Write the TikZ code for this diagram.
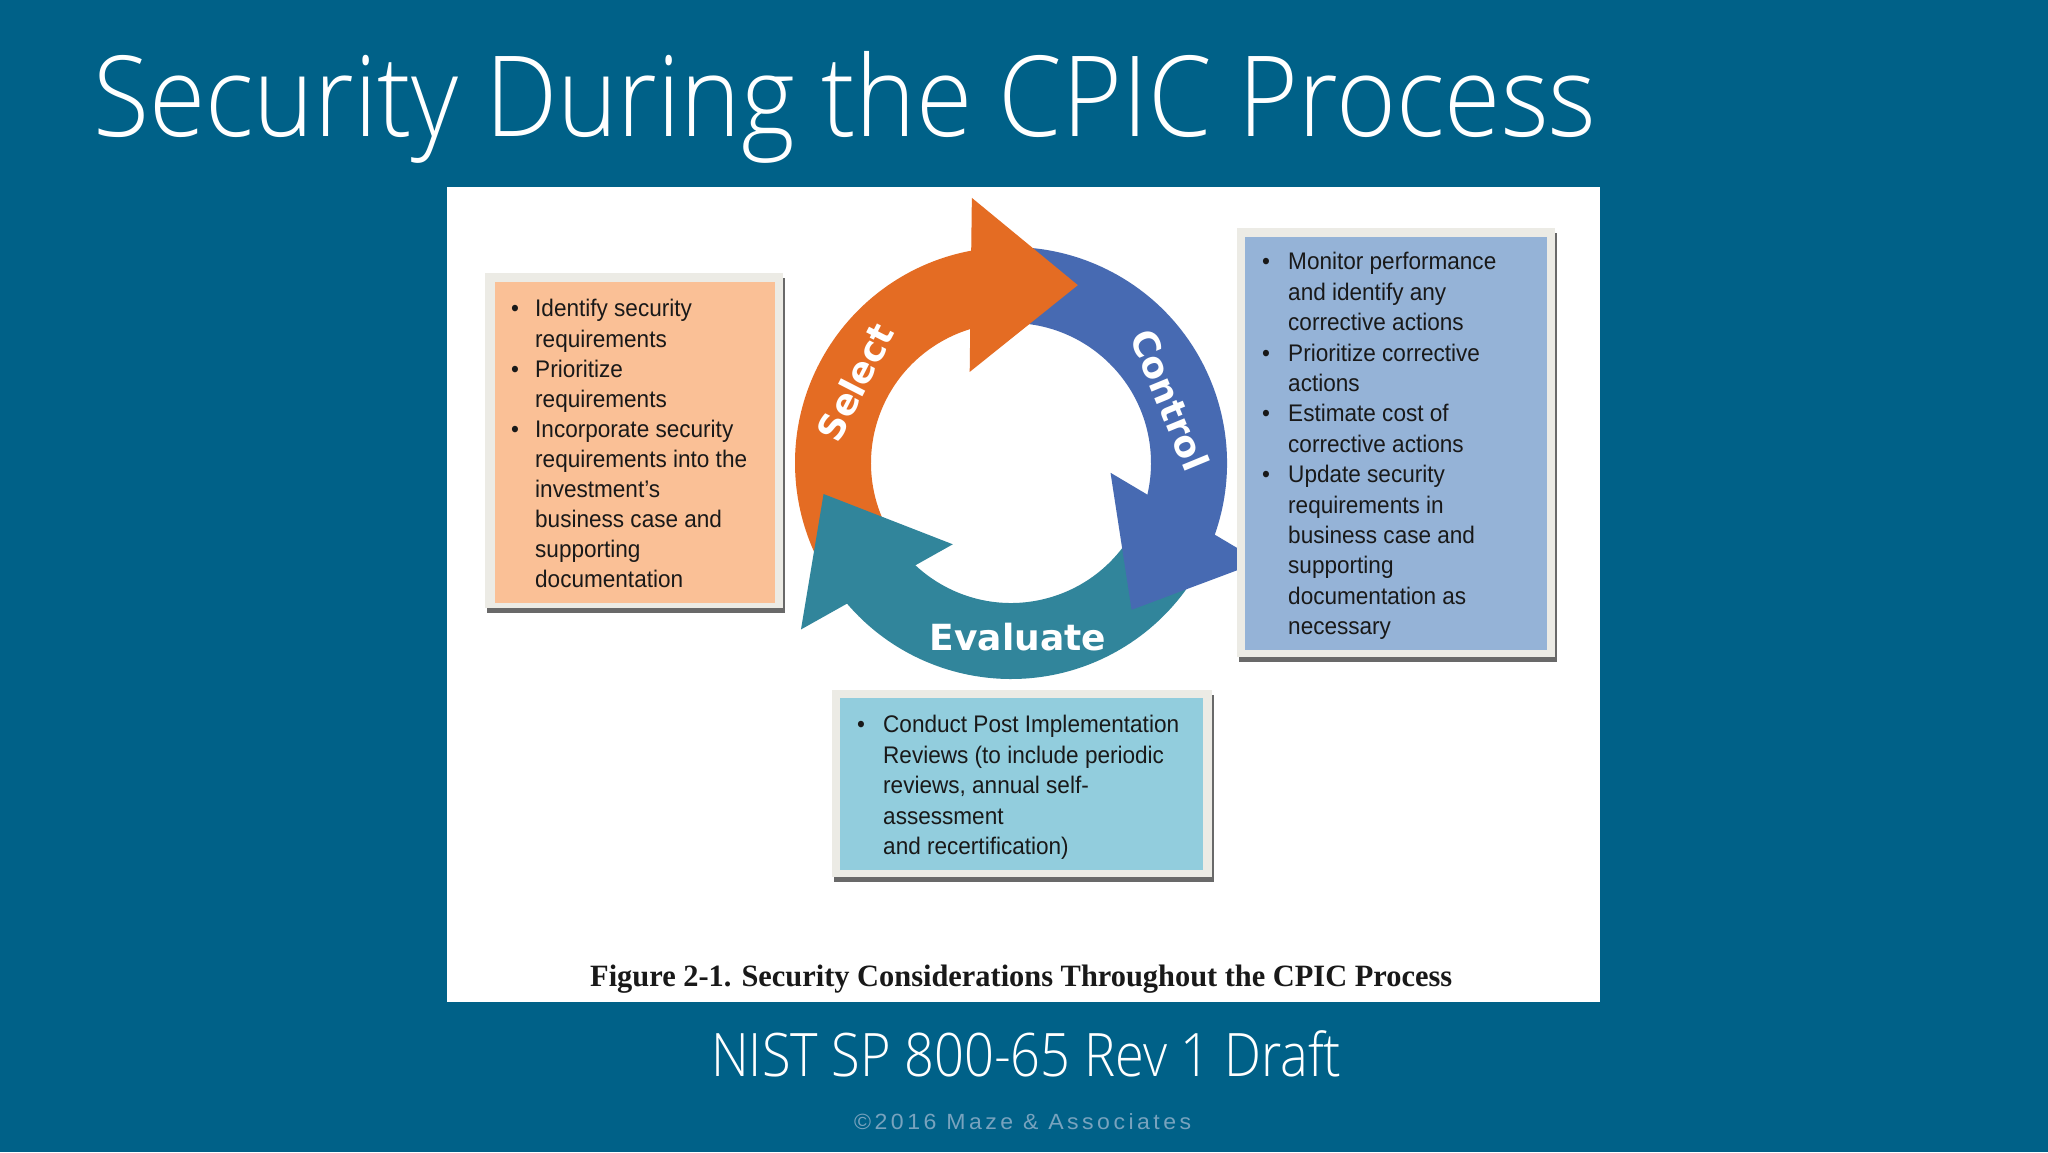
\documentclass[tikz,border=0pt]{standalone}
\usepackage{fontspec}
\usepackage{graphicx}
\setmainfont{Liberation Sans}
\newfontfamily\lightfont{Open Sans Light}
\newfontfamily\boxfont{Liberation Sans}[FakeStretch=0.94]
\newfontfamily\capfont{Liberation Serif}
\newfontfamily\labfont{DejaVu Sans}
\newfontfamily\copyfont{Liberation Sans}[LetterSpace=15]
\definecolor{bgblue}{RGB}{0,97,136}
\definecolor{selorange}{RGB}{228,108,35}
\definecolor{ctlblue}{RGB}{71,106,178}
\definecolor{evalteal}{RGB}{49,133,155}
\definecolor{boxorange}{RGB}{250,192,150}
\definecolor{boxblue}{RGB}{149,179,215}
\definecolor{boxcyan}{RGB}{146,205,221}
\definecolor{frameclr}{RGB}{236,235,229}
\definecolor{shadowclr}{RGB}{105,105,105}
\definecolor{txt}{RGB}{25,25,25}
\definecolor{copyclr}{RGB}{120,163,190}
\begin{document}
\begin{tikzpicture}[x=1pt,y=1pt,
  boxtext/.style={anchor=base west,inner sep=0pt,font=\boxfont\fontsize{24}{30}\selectfont,text=txt},
  ringlabel/.style={inner sep=0pt,text=white,font=\labfont\bfseries\fontsize{36}{36}\selectfont},
  plain/.style={anchor=base west,inner sep=0pt}]
\useasboundingbox (0,0) rectangle (2048,1152);
\fill[bgblue] (0,0) rectangle (2048,1152);
\fill[white] (447,150) rectangle (1600,965);
% cycle arrows
\begin{scope}[shift={(1011,689)}]
\foreach \a/\c in {69.4/selorange,-50.6/ctlblue,189.4/evalteal}{
  \fill[\c] (\a+25.6:216) arc[start angle=\a+25.6,end angle=\a+143.6,radius=216]
    -- (\a+143.6:140) arc[start angle=\a+143.6,end angle=\a+25.6,radius=140] -- cycle;
}
\foreach \a/\c in {69.4/selorange,-50.6/ctlblue,189.4/evalteal}{
  \fill[\c] (\a+29:268) -- (\a:190) -- (\a+45:100) -- cycle;
}
\end{scope}
\node[ringlabel,rotate=62.9] (sel) at (855,770) {Select};
\node[ringlabel,rotate=-67.6] (ctl) at (1170,752) {Control};
\node[ringlabel] (evl) at (1018,515) {Evaluate};
% left box
\fill[shadowclr] (487,539) rectangle (785,874);
\fill[frameclr] (485,544) rectangle (783,879);
\fill[boxorange] (495,549) rectangle (775,870);
\foreach \t [count=\i from 0] in {Identify security,requirements,Prioritize,requirements,Incorporate security,requirements into the,investment’s,business case and,supporting,documentation}
  \node[boxtext,name=L\i] at (535,835-30.1*\i) {\t};
\foreach \i in {0,2,4}
  \node[boxtext,name=LB\i] at (511,835-30.1*\i) {•};
% right box
\fill[shadowclr] (1239,490) rectangle (1557,919);
\fill[frameclr] (1237,495) rectangle (1555,924);
\fill[boxblue] (1245,502) rectangle (1547,915);
\foreach \t [count=\i from 0] in {Monitor performance,and identify any,corrective actions,Prioritize corrective,actions,Estimate cost of,corrective actions,Update security,requirements in,business case and,supporting,documentation as,necessary}
  \node[boxtext,name=R\i] at (1288,882-30.4*\i) {\t};
\foreach \i in {0,3,5,7}
  \node[boxtext,name=RB\i] at (1262,882-30.4*\i) {•};
% bottom box
\fill[shadowclr] (834,270) rectangle (1214,457);
\fill[frameclr] (832,275) rectangle (1212,462);
\fill[boxcyan] (840,282) rectangle (1203,454);
\foreach \t [count=\i from 0] in {Conduct Post Implementation,Reviews (to include periodic,{reviews, annual self-},assessment,and recertification)}
  \node[boxtext,name=B\i] at (883,419-30.5*\i) {\t};
\node[boxtext,name=BB0] at (857,419) {•};
% caption and texts
\node[plain,text=txt] (cap) at (590,166) {\resizebox{862pt}{\height}{\capfont\bfseries\fontsize{31}{31}\selectfont Figure 2-1. Security Considerations Throughout the CPIC Process}};
\node[plain,text=white] (title) at (93,1015) {\resizebox{1503pt}{\height}{\lightfont\fontsize{112}{112}\selectfont Security During the CPIC Process}};
\node[plain,text=white] (nist) at (711,76) {\resizebox{630pt}{\height}{\lightfont\fontsize{60}{60}\selectfont NIST SP 800-65 Rev 1 Draft}};
\node[plain,text=copyclr] (copy) at (854,23) {\resizebox{337pt}{\height}{\copyfont\fontsize{22}{22}\selectfont ©2016 Maze \& Associates}};
\end{tikzpicture}
\end{document}
